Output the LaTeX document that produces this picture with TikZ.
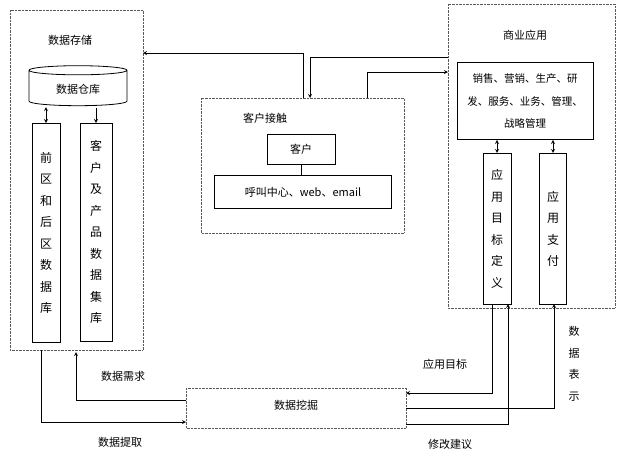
\documentclass[tikz,border=0pt]{standalone}
\usepackage{fontspec}
\setmainfont{Noto Sans CJK SC}
\usetikzlibrary{shapes.geometric}
\tikzset{
	group/.style={draw, densely dotted, gray!70!black},
	box/.style={draw, thick, inner sep=2pt},
	vbox/.style={draw, thick, minimum width=28pt, align=center, anchor=north, font=\fontsize{12}{21.5}\selectfont},
	lbl/.style={font=\fontsize{11}{13}\selectfont},
	link/.style={->, thick, >=stealth},
	dlink/.style={<->, thick, >=stealth}
}
\begin{document}
\begin{tikzpicture}[x=1pt, y=-1pt, lbl]
	\useasboundingbox (0,0) rectangle (624,456);
	
	% Data storage
	\draw[group] (10,10) rectangle (143,350);
	\node at (70,40) {数据存储};
	\node[cylinder, draw, thick, shape border rotate=90, aspect=0.18, minimum width=98pt, minimum height=40pt] (dw) at (78,89) {数据仓库};
	\node[vbox, minimum height=219pt] (front) at (46,123) {前\\区\\和\\后\\区\\数\\据\\库};
	\node[vbox, minimum height=218pt, minimum width=32pt] (prod) at (96,123) {客\\户\\及\\产\\品\\数\\据\\集\\库};
	\draw[dlink, shorten >=-1pt] (front.north) -- ++(0,-15);
	\draw[link] (prod.north |- 0,108) -- (prod.north);
	
	% Customer contact
	\draw[group] (201,98) rectangle (404,233);
	\node at (265,118) {客户接触};
	\node[box, minimum width=68pt, minimum height=30pt] (cust) at (301,149) {客户};
	\node[box, minimum width=177pt, minimum height=33pt] (call) at (303,192) {呼叫中心、web、email};
	\draw[thick] (cust) -- (cust |- call.north);
	
	% Business application
	\draw[group] (448,4) rectangle (615,308);
	\node at (525,35) {商业应用};
	\node[box, minimum width=136pt, minimum height=77pt, align=center, font=\fontsize{10.5}{22}\selectfont] (biz) at (525,101) {销售、营销、生产、研\\发、服务、业务、管理、\\战略管理};
	\node[vbox, minimum height=151pt] (goal) at (497,153) {应\\用\\目\\标\\定\\义};
	\node[vbox, minimum height=151pt, minimum width=27pt] (pay) at (553,153) {应\\用\\支\\付};
	\draw[dlink] (goal.north) -- (goal.north |- biz.south);
	\draw[dlink] (pay.north) -- (pay.north |- biz.south);
	
	% Data mining
	\draw[group] (186,388) rectangle (406,428);
	\node at (296,405) {数据挖掘};
	
	% Top links
	\draw[link] (303,98) -- (303,53) -- (143,53);
	\draw[link] (448,57) -- (310,57) -- (310,98);
	\draw[link] (367,98) -- (367,72) -- (448,72);
	
	% Bottom links
	\draw[link] (41,350) -- (41,422) -- (186,422);
	\draw[link] (186,400) -- (76,400) -- (76,352);
	\node at (123,376) {数据需求};
	\node at (120,442) {数据提取};
	\draw[link] (492,304) -- (492,393) -- (406,393);
	\draw[link] (406,408) -- (554,408) -- (554,304);
	\draw[link] (406,424) -- (508,424) -- (508,304);
	\node at (445,364) {应用目标};
	\node at (450,444) {修改建议};
	\node[align=center, font=\fontsize{11}{21.5}\selectfont] at (574,364) {数\\据\\表\\示};
\end{tikzpicture}
\end{document}
